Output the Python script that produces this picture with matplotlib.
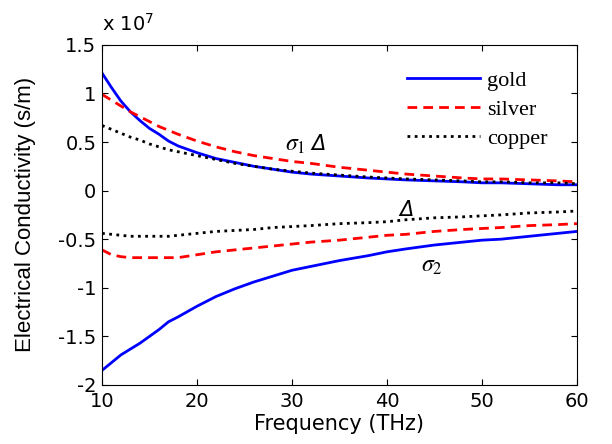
import matplotlib.pyplot as plt

plt.rcParams['mathtext.fontset'] = 'stix'

freq = [10, 11, 12, 13, 14, 15, 16, 17, 18, 20, 22, 24, 26, 28, 30, 32, 35, 38, 40, 42, 45, 48, 50, 52, 55, 58, 60]

# conductivity in units of 1e7 s/m
gold_s1 = [1.21, 1.06, 0.92, 0.81, 0.72, 0.64, 0.58, 0.51, 0.46, 0.39, 0.33, 0.29, 0.25, 0.22, 0.19, 0.17, 0.15, 0.13, 0.12, 0.11, 0.10, 0.09, 0.08, 0.08, 0.07, 0.06, 0.06]
silver_s1 = [0.99, 0.93, 0.87, 0.81, 0.76, 0.71, 0.66, 0.62, 0.58, 0.51, 0.45, 0.40, 0.36, 0.33, 0.30, 0.28, 0.24, 0.21, 0.19, 0.17, 0.15, 0.13, 0.12, 0.12, 0.11, 0.10, 0.09]
copper_s1 = [0.67, 0.63, 0.59, 0.55, 0.52, 0.48, 0.45, 0.42, 0.40, 0.36, 0.32, 0.28, 0.25, 0.22, 0.20, 0.18, 0.16, 0.14, 0.13, 0.12, 0.11, 0.10, 0.09, 0.09, 0.08, 0.08, 0.07]
gold_s2 = [-1.85, -1.77, -1.69, -1.63, -1.57, -1.50, -1.43, -1.35, -1.30, -1.19, -1.09, -1.01, -0.94, -0.88, -0.82, -0.78, -0.72, -0.67, -0.63, -0.60, -0.56, -0.53, -0.51, -0.50, -0.47, -0.44, -0.42]
silver_s2 = [-0.61, -0.66, -0.68, -0.69, -0.69, -0.69, -0.69, -0.69, -0.69, -0.66, -0.63, -0.61, -0.59, -0.57, -0.55, -0.53, -0.51, -0.48, -0.46, -0.45, -0.42, -0.40, -0.39, -0.38, -0.36, -0.35, -0.34]
copper_s2 = [-0.44, -0.45, -0.46, -0.47, -0.47, -0.47, -0.47, -0.47, -0.46, -0.44, -0.42, -0.41, -0.40, -0.38, -0.37, -0.36, -0.34, -0.33, -0.32, -0.30, -0.28, -0.27, -0.26, -0.25, -0.23, -0.22, -0.21]

fig = plt.figure(figsize=(6.12, 4.44), dpi=100)
ax = fig.add_axes([0.1667, 0.133, 0.776, 0.766])

ax.plot(freq, gold_s1, color='#0000ff', lw=2.0, label='gold')
ax.plot(freq, silver_s1, color='#ff0000', lw=2.0, ls=(0, (3.5, 2.2)), label='silver')
ax.plot(freq, copper_s1, color='black', lw=2.0, ls=(0, (1, 1.6)), label='copper')
ax.plot(freq, gold_s2, color='#0000ff', lw=2.0)
ax.plot(freq, silver_s2, color='#ff0000', lw=2.0, ls=(0, (3.5, 2.2)))
ax.plot(freq, copper_s2, color='black', lw=2.0, ls=(0, (1, 1.6)))

ax.set_xlim(10, 60)
ax.set_ylim(-2, 1.5)
ax.set_xticks([10, 20, 30, 40, 50, 60])
ax.set_yticks([-2, -1.5, -1, -0.5, 0, 0.5, 1, 1.5])
ax.set_yticklabels(['-2', '-1.5', '-1', '-0.5', '0', '0.5', '1', '1.5'])
ax.tick_params(direction='in', top=True, right=True, length=4, labelsize=14)
ax.tick_params(axis='y', pad=4)
ax.tick_params(axis='x', pad=5)
for lbl in ax.get_xticklabels() + ax.get_yticklabels():
    lbl.set_family('DejaVu Sans')

ax.set_xlabel('Frequency (THz)', fontsize=15, family='DejaVu Sans', labelpad=2)
ax.set_ylabel('Electrical Conductivity (s/m)', fontsize=16, family='Liberation Sans', labelpad=16)
ax.text(0.0, 1.03, r'x 10$^{7}$', transform=ax.transAxes, fontsize=14,
        family='DejaVu Sans', math_fontfamily='dejavusans', va='bottom', ha='left')

ax.text(30.3, 0.48, r'$\sigma_1$', fontsize=17, ha='center', va='center')
ax.text(32.8, 0.48, 'Δ', fontsize=15, style='italic', ha='center', va='center')
ax.text(42.0, -0.20, 'Δ', fontsize=15, style='italic', ha='center', va='center')
ax.text(44.7, -0.77, r'$\sigma_2$', fontsize=17, ha='center', va='center')

ax.legend(loc='upper right', bbox_to_anchor=(0.98, 0.985), frameon=False,
          handlelength=3.3, handletextpad=0.3, labelspacing=0.38,
          prop={'family': 'Liberation Serif', 'size': 16})

fig.savefig('out.png', dpi=100)
